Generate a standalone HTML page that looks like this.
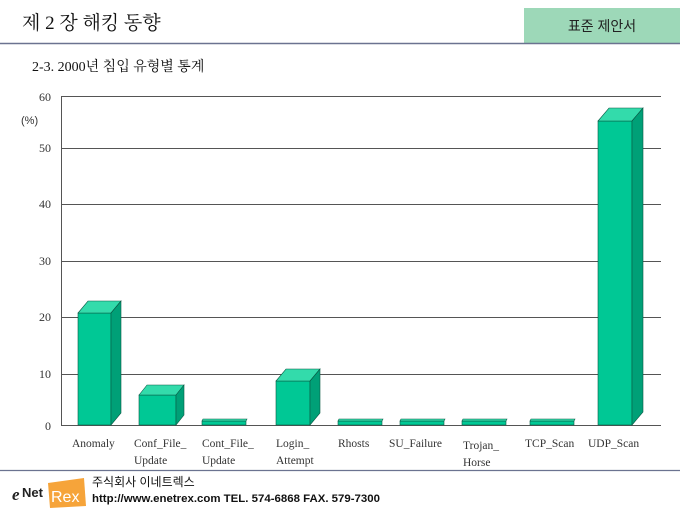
<!DOCTYPE html>
<html><head><meta charset="utf-8"><style>
body{margin:0;width:680px;height:510px;background:#fff;overflow:hidden;font-family:"Liberation Sans","Noto Sans CJK KR",sans-serif}
</style></head><body>
<svg width="680" height="510" xmlns="http://www.w3.org/2000/svg" font-family="Liberation Sans, Noto Sans CJK KR, sans-serif">
<rect x="524" y="8" width="156" height="35" fill="#9dd8b8"/>
<text x="602" y="31" font-size="14" text-anchor="middle" fill="#222">표준 제안서</text>
<text x="22" y="29" font-size="19" fill="#111" font-family="Liberation Serif, Noto Serif CJK SC, serif">제 2 장  해킹 동향</text>
<line x1="0" y1="43.5" x2="680" y2="43.5" stroke="#6b7390" stroke-width="1.5"/>
<text x="32" y="71" font-size="14" fill="#111" font-family="Liberation Serif, Noto Serif CJK SC, serif">2-3. 2000년 침입 유형별 통계</text>
<g stroke="#555" stroke-width="1">
<line x1="61" y1="96.5" x2="661" y2="96.5"/>
<line x1="61" y1="148.5" x2="661" y2="148.5"/>
<line x1="61" y1="204.5" x2="661" y2="204.5"/>
<line x1="61" y1="261.5" x2="661" y2="261.5"/>
<line x1="61" y1="317.5" x2="661" y2="317.5"/>
<line x1="61" y1="374.5" x2="661" y2="374.5"/>
<line x1="61" y1="425.5" x2="661" y2="425.5"/>
<line x1="61.5" y1="96" x2="61.5" y2="426"/>
</g>
<g font-size="12" fill="#333" text-anchor="end" font-family="Liberation Serif, serif">
<text x="51" y="101">60</text><text x="51" y="152">50</text><text x="51" y="208">40</text>
<text x="51" y="265">30</text><text x="51" y="321">20</text><text x="51" y="378">10</text><text x="51" y="430">0</text>
</g>
<text x="21" y="124" font-size="11" fill="#333">(%)</text>
<g stroke="#0a5a45" stroke-width="0.6">
<g><rect x="78" y="313" width="33" height="112" fill="#00c895"/><polygon points="78,313 88,301 121,301 111,313" fill="#33dbab"/><polygon points="111,313 121,301 121,413 111,425" fill="#00a077"/></g>
<g><rect x="139" y="395" width="37" height="30" fill="#00c895"/><polygon points="139,395 147,385 184,385 176,395" fill="#33dbab"/><polygon points="176,395 184,385 184,415 176,425" fill="#00a077"/></g>
<g><rect x="202" y="421" width="44" height="4" fill="#00c895"/><polygon points="202,421 203,419 247,419 246,421" fill="#33dbab"/></g>
<g><rect x="276" y="381" width="34" height="44" fill="#00c895"/><polygon points="276,381 286,369 320,369 310,381" fill="#33dbab"/><polygon points="310,381 320,369 320,413 310,425" fill="#00a077"/></g>
<g><rect x="338" y="421" width="44" height="4" fill="#00c895"/><polygon points="338,421 339,419 383,419 382,421" fill="#33dbab"/></g>
<g><rect x="400" y="421" width="44" height="4" fill="#00c895"/><polygon points="400,421 401,419 445,419 444,421" fill="#33dbab"/></g>
<g><rect x="462" y="421" width="44" height="4" fill="#00c895"/><polygon points="462,421 463,419 507,419 506,421" fill="#33dbab"/></g>
<g><rect x="530" y="421" width="44" height="4" fill="#00c895"/><polygon points="530,421 531,419 575,419 574,421" fill="#33dbab"/></g>
<g><rect x="598" y="121" width="34" height="304" fill="#00c895"/><polygon points="598,121 609,108 643,108 632,121" fill="#33dbab"/><polygon points="632,121 643,108 643,412 632,425" fill="#00a077"/></g>
</g>
<g font-size="11.5" fill="#333" font-family="Liberation Serif, serif">
<text x="72" y="447">Anomaly</text>
<text x="134" y="447">Conf_File_</text><text x="134" y="464">Update</text>
<text x="202" y="447">Cont_File_</text><text x="202" y="464">Update</text>
<text x="276" y="447">Login_</text><text x="276" y="464">Attempt</text>
<text x="338" y="447">Rhosts</text>
<text x="389" y="447">SU_Failure</text>
<text x="463" y="449">Trojan_</text><text x="463" y="466">Horse</text>
<text x="525" y="447">TCP_Scan</text>
<text x="588" y="447">UDP_Scan</text>
</g>
<line x1="0" y1="470.5" x2="680" y2="470.5" stroke="#6b7390" stroke-width="1.2"/>
<text x="12" y="500" font-size="17" font-style="italic" font-weight="bold" fill="#222" font-family="Liberation Serif, serif">e</text>
<text x="22" y="497" font-size="13" font-weight="bold" fill="#222">Net</text>
<polygon points="48,483 84,478 86,506 50,508" fill="#f6a43a"/>
<text x="51" y="502" font-size="16" fill="#fff">Rex</text>
<text x="92" y="486" font-size="12" fill="#111">주식회사 이네트렉스</text>
<text x="92" y="502" font-size="11" font-weight="bold" fill="#111" textLength="288" lengthAdjust="spacingAndGlyphs">http://www.enetrex.com   TEL. 574-6868   FAX. 579-7300</text>
</svg>
</body></html>
